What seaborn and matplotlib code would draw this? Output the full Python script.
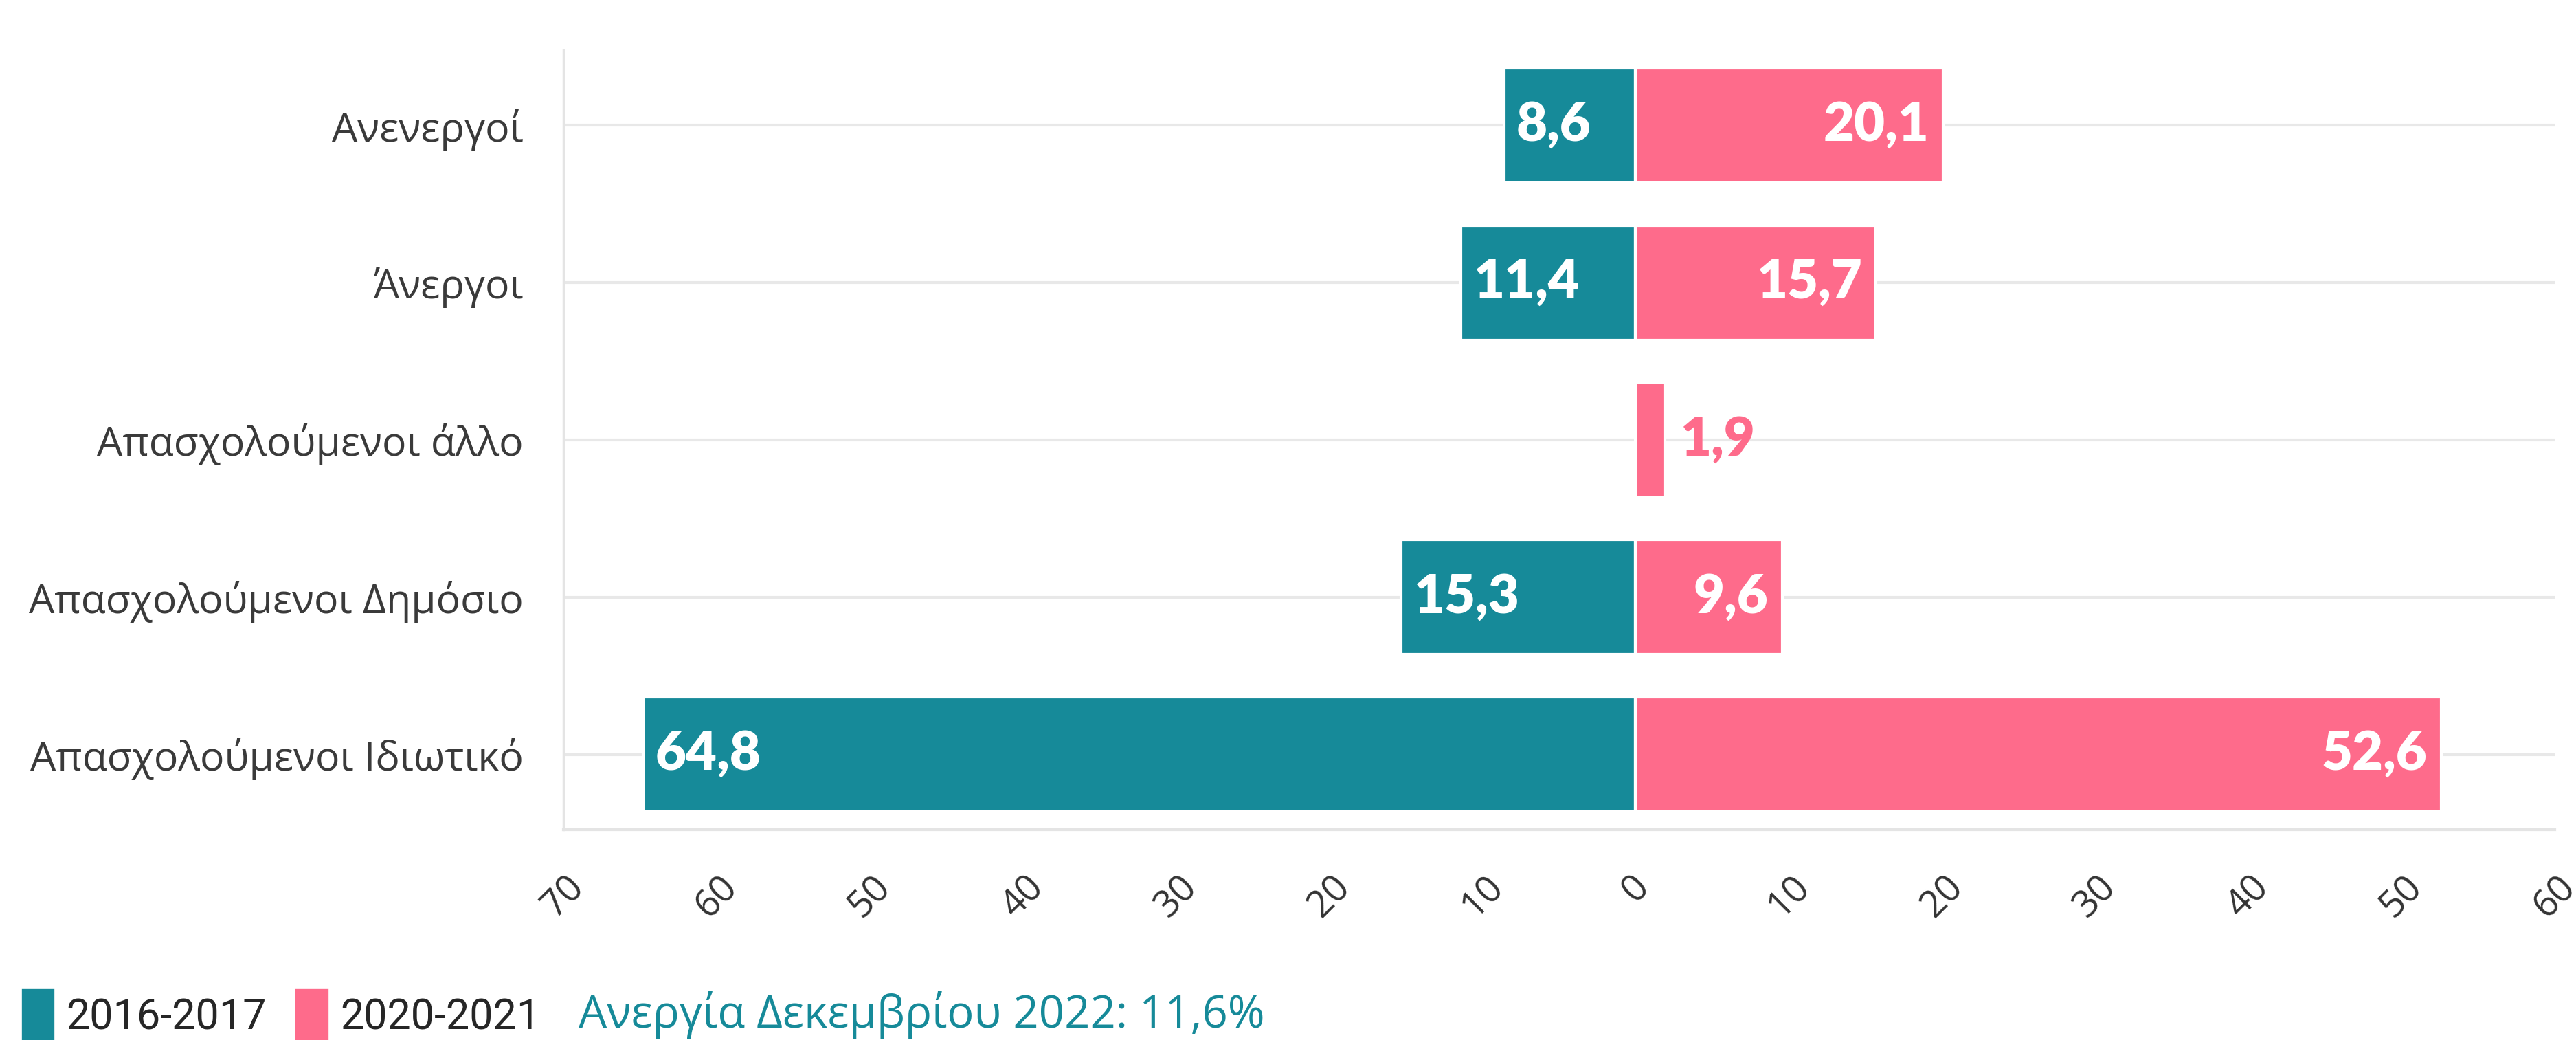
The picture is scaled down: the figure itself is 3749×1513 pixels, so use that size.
import numpy as np
import pandas as pd
import seaborn as sns
import matplotlib.pyplot as plt
from matplotlib.patches import Patch

# data
categories = ['Ανενεργοί', 'Άνεργοι', 'Απασχολούμενοι άλλο',
              'Απασχολούμενοι Δημόσιο', 'Απασχολούμενοι Ιδιωτικό']
values_2016 = [8.6, 11.4, np.nan, 15.3, 64.8]
values_2020 = [20.1, 15.7, 1.9, 9.6, 52.6]
periods = ['2016-2017', '2020-2021']
colors = ['#168a99', '#fe6b8b']
tick_values = list(range(-70, 61, 10))
note_text = 'Ανεργία Δεκεμβρίου 2022: 11,6%'

# long table: left side is negative
df = pd.DataFrame({
    'category': categories * 2,
    'value': [-v for v in values_2016] + values_2020,
    'period': [periods[0]] * len(categories) + [periods[1]] * len(categories),
}).dropna()

sns.set_theme(style='white')
plt.rcParams['font.family'] = ['Open Sans', 'DejaVu Sans']

fig = plt.figure(figsize=(37.49, 15.13), dpi=100)
ax = fig.add_axes([0.2187, 0.202, 0.773, 0.750])

sns.barplot(data=df, x='value', y='category', hue='period', order=categories,
            hue_order=periods, palette=colors, saturation=1, dodge=False,
            width=0.73, edgecolor='white', linewidth=3, errorbar=None,
            legend=False, ax=ax)

# value labels
def fmt(v):
    return f'{v:.1f}'.replace('.', ',')

lab = dict(va='center', fontsize=56, fontweight='heavy', family='Lato',
           textcoords='offset points')
for i, v in enumerate(values_2016):
    if np.isnan(v):
        continue
    ax.annotate(fmt(v), (-v, i), xytext=(13, 0), ha='left', color='white', **lab)
for i, v in enumerate(values_2020):
    if v > 5:
        ax.annotate(fmt(v), (v, i), xytext=(-15, 0), ha='right', color='white', **lab)
    else:
        ax.annotate(fmt(v), (v, i), xytext=(16, 0), ha='left', color=colors[1], **lab)

ax.set_xlim(-70, 60)
ax.set_ylim(4.48, -0.48)
ax.set_xticks(tick_values)
ax.set_xticklabels([str(abs(t)) for t in tick_values], rotation=45, ha='center')
ax.set_xlabel('')
ax.set_ylabel('')

ax.grid(axis='y', color='#e8e8e8', linewidth=3)
ax.grid(axis='x', visible=False)
ax.set_axisbelow(True)
for side in ['top', 'right']:
    ax.spines[side].set_visible(False)
ax.spines['left'].set_color('#e4e4e4')
ax.spines['left'].set_linewidth(2.5)
ax.spines['bottom'].set_color('#e4e4e4')
ax.spines['bottom'].set_linewidth(3)

ax.tick_params(axis='x', length=24, width=2, color='#e6e6e6', pad=16,
               labelsize=39, labelcolor='#333333')
ax.tick_params(axis='y', length=0, pad=42, labelsize=42.5, labelcolor='#3a3a3a')

# legend
handles = [Patch(facecolor=c, edgecolor=c, linewidth=6, joinstyle='round')
           for c in colors]
fig.legend(handles, periods, loc='center left', bbox_to_anchor=(0.0095, 0.024),
           ncol=2, frameon=False, handlelength=0.65, handleheight=1.3,
           handletextpad=0.35, columnspacing=0.75, borderpad=0,
           borderaxespad=0, prop={'family': 'Roboto', 'size': 44})

fig.text(0.2245, 0.024, note_text, ha='left', va='center', fontsize=47,
         color=colors[0], family='Open Sans')

fig.savefig('out.png', dpi=100)
